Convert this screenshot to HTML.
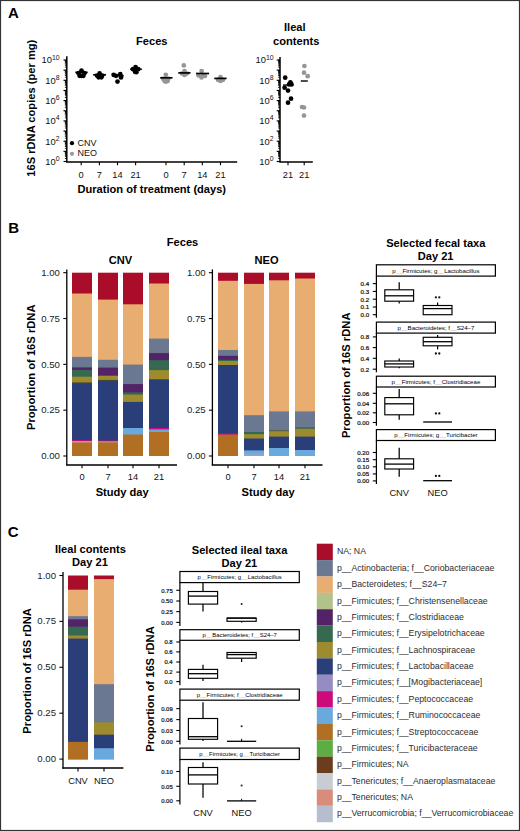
<!DOCTYPE html>
<html><head><meta charset="utf-8"><style>
html,body{margin:0;padding:0;background:#fff;}
svg{display:block;font-family:"Liberation Sans", sans-serif;}
</style></head><body>
<svg width="520" height="831" viewBox="0 0 520 831" font-family='"Liberation Sans", sans-serif'>
<rect x="0.5" y="0.5" width="519" height="830" fill="#fff" stroke="#333" stroke-width="1.2"/>
<text x="8.1" y="18.3" font-size="15" font-weight="bold" text-anchor="start" fill="#000">A</text>
<text x="8.3" y="233.0" font-size="15" font-weight="bold" text-anchor="start" fill="#000">B</text>
<text x="7.8" y="537.0" font-size="15" font-weight="bold" text-anchor="start" fill="#000">C</text>
<text x="151.8" y="45.4" font-size="11.1" font-weight="bold" text-anchor="middle" fill="#000">Feces</text>
<text x="294.8" y="31.2" font-size="11.1" font-weight="bold" text-anchor="middle" fill="#000">Ileal</text>
<text x="296.2" y="45.2" font-size="11.1" font-weight="bold" text-anchor="middle" fill="#000">contents</text>
<line x1="66.8" y1="56.2" x2="66.8" y2="161.9" stroke="#000" stroke-width="1.5"/>
<line x1="63.5" y1="161.5" x2="66.8" y2="161.5" stroke="#000" stroke-width="1.15"/>
<line x1="64.89999999999999" y1="158.4445455440106" x2="66.8" y2="158.4445455440106" stroke="#000" stroke-width="0.85"/>
<line x1="64.89999999999999" y1="156.65721926459543" x2="66.8" y2="156.65721926459543" stroke="#000" stroke-width="0.85"/>
<line x1="64.89999999999999" y1="155.3890910880212" x2="66.8" y2="155.3890910880212" stroke="#000" stroke-width="0.85"/>
<line x1="64.89999999999999" y1="154.4054544559894" x2="66.8" y2="154.4054544559894" stroke="#000" stroke-width="0.85"/>
<line x1="64.89999999999999" y1="153.60176480860602" x2="66.8" y2="153.60176480860602" stroke="#000" stroke-width="0.85"/>
<line x1="64.89999999999999" y1="152.9222548938553" x2="66.8" y2="152.9222548938553" stroke="#000" stroke-width="0.85"/>
<line x1="64.89999999999999" y1="152.33363663203178" x2="66.8" y2="152.33363663203178" stroke="#000" stroke-width="0.85"/>
<line x1="64.89999999999999" y1="151.81443852919085" x2="66.8" y2="151.81443852919085" stroke="#000" stroke-width="0.85"/>
<line x1="63.5" y1="151.35" x2="66.8" y2="151.35" stroke="#000" stroke-width="1.15"/>
<line x1="64.89999999999999" y1="148.2945455440106" x2="66.8" y2="148.2945455440106" stroke="#000" stroke-width="0.85"/>
<line x1="64.89999999999999" y1="146.50721926459542" x2="66.8" y2="146.50721926459542" stroke="#000" stroke-width="0.85"/>
<line x1="64.89999999999999" y1="145.23909108802118" x2="66.8" y2="145.23909108802118" stroke="#000" stroke-width="0.85"/>
<line x1="64.89999999999999" y1="144.25545445598942" x2="66.8" y2="144.25545445598942" stroke="#000" stroke-width="0.85"/>
<line x1="64.89999999999999" y1="143.45176480860601" x2="66.8" y2="143.45176480860601" stroke="#000" stroke-width="0.85"/>
<line x1="64.89999999999999" y1="142.7722548938553" x2="66.8" y2="142.7722548938553" stroke="#000" stroke-width="0.85"/>
<line x1="64.89999999999999" y1="142.18363663203178" x2="66.8" y2="142.18363663203178" stroke="#000" stroke-width="0.85"/>
<line x1="64.89999999999999" y1="141.66443852919085" x2="66.8" y2="141.66443852919085" stroke="#000" stroke-width="0.85"/>
<line x1="63.5" y1="141.2" x2="66.8" y2="141.2" stroke="#000" stroke-width="1.15"/>
<line x1="64.89999999999999" y1="138.14454554401058" x2="66.8" y2="138.14454554401058" stroke="#000" stroke-width="0.85"/>
<line x1="64.89999999999999" y1="136.35721926459541" x2="66.8" y2="136.35721926459541" stroke="#000" stroke-width="0.85"/>
<line x1="64.89999999999999" y1="135.08909108802118" x2="66.8" y2="135.08909108802118" stroke="#000" stroke-width="0.85"/>
<line x1="64.89999999999999" y1="134.10545445598942" x2="66.8" y2="134.10545445598942" stroke="#000" stroke-width="0.85"/>
<line x1="64.89999999999999" y1="133.301764808606" x2="66.8" y2="133.301764808606" stroke="#000" stroke-width="0.85"/>
<line x1="64.89999999999999" y1="132.62225489385528" x2="66.8" y2="132.62225489385528" stroke="#000" stroke-width="0.85"/>
<line x1="64.89999999999999" y1="132.03363663203177" x2="66.8" y2="132.03363663203177" stroke="#000" stroke-width="0.85"/>
<line x1="64.89999999999999" y1="131.51443852919084" x2="66.8" y2="131.51443852919084" stroke="#000" stroke-width="0.85"/>
<line x1="63.5" y1="131.05" x2="66.8" y2="131.05" stroke="#000" stroke-width="1.15"/>
<line x1="64.89999999999999" y1="127.99454554401059" x2="66.8" y2="127.99454554401059" stroke="#000" stroke-width="0.85"/>
<line x1="64.89999999999999" y1="126.20721926459542" x2="66.8" y2="126.20721926459542" stroke="#000" stroke-width="0.85"/>
<line x1="64.89999999999999" y1="124.93909108802117" x2="66.8" y2="124.93909108802117" stroke="#000" stroke-width="0.85"/>
<line x1="64.89999999999999" y1="123.95545445598941" x2="66.8" y2="123.95545445598941" stroke="#000" stroke-width="0.85"/>
<line x1="64.89999999999999" y1="123.151764808606" x2="66.8" y2="123.151764808606" stroke="#000" stroke-width="0.85"/>
<line x1="64.89999999999999" y1="122.4722548938553" x2="66.8" y2="122.4722548938553" stroke="#000" stroke-width="0.85"/>
<line x1="64.89999999999999" y1="121.88363663203177" x2="66.8" y2="121.88363663203177" stroke="#000" stroke-width="0.85"/>
<line x1="64.89999999999999" y1="121.36443852919085" x2="66.8" y2="121.36443852919085" stroke="#000" stroke-width="0.85"/>
<line x1="63.5" y1="120.9" x2="66.8" y2="120.9" stroke="#000" stroke-width="1.15"/>
<line x1="64.89999999999999" y1="117.84454554401059" x2="66.8" y2="117.84454554401059" stroke="#000" stroke-width="0.85"/>
<line x1="64.89999999999999" y1="116.05721926459543" x2="66.8" y2="116.05721926459543" stroke="#000" stroke-width="0.85"/>
<line x1="64.89999999999999" y1="114.78909108802118" x2="66.8" y2="114.78909108802118" stroke="#000" stroke-width="0.85"/>
<line x1="64.89999999999999" y1="113.8054544559894" x2="66.8" y2="113.8054544559894" stroke="#000" stroke-width="0.85"/>
<line x1="64.89999999999999" y1="113.00176480860601" x2="66.8" y2="113.00176480860601" stroke="#000" stroke-width="0.85"/>
<line x1="64.89999999999999" y1="112.32225489385529" x2="66.8" y2="112.32225489385529" stroke="#000" stroke-width="0.85"/>
<line x1="64.89999999999999" y1="111.73363663203176" x2="66.8" y2="111.73363663203176" stroke="#000" stroke-width="0.85"/>
<line x1="64.89999999999999" y1="111.21443852919086" x2="66.8" y2="111.21443852919086" stroke="#000" stroke-width="0.85"/>
<line x1="63.5" y1="110.75" x2="66.8" y2="110.75" stroke="#000" stroke-width="1.15"/>
<line x1="64.89999999999999" y1="107.6945455440106" x2="66.8" y2="107.6945455440106" stroke="#000" stroke-width="0.85"/>
<line x1="64.89999999999999" y1="105.90721926459543" x2="66.8" y2="105.90721926459543" stroke="#000" stroke-width="0.85"/>
<line x1="64.89999999999999" y1="104.63909108802119" x2="66.8" y2="104.63909108802119" stroke="#000" stroke-width="0.85"/>
<line x1="64.89999999999999" y1="103.6554544559894" x2="66.8" y2="103.6554544559894" stroke="#000" stroke-width="0.85"/>
<line x1="64.89999999999999" y1="102.85176480860602" x2="66.8" y2="102.85176480860602" stroke="#000" stroke-width="0.85"/>
<line x1="64.89999999999999" y1="102.1722548938553" x2="66.8" y2="102.1722548938553" stroke="#000" stroke-width="0.85"/>
<line x1="64.89999999999999" y1="101.58363663203177" x2="66.8" y2="101.58363663203177" stroke="#000" stroke-width="0.85"/>
<line x1="64.89999999999999" y1="101.06443852919085" x2="66.8" y2="101.06443852919085" stroke="#000" stroke-width="0.85"/>
<line x1="63.5" y1="100.6" x2="66.8" y2="100.6" stroke="#000" stroke-width="1.15"/>
<line x1="64.89999999999999" y1="97.54454554401059" x2="66.8" y2="97.54454554401059" stroke="#000" stroke-width="0.85"/>
<line x1="64.89999999999999" y1="95.75721926459542" x2="66.8" y2="95.75721926459542" stroke="#000" stroke-width="0.85"/>
<line x1="64.89999999999999" y1="94.48909108802118" x2="66.8" y2="94.48909108802118" stroke="#000" stroke-width="0.85"/>
<line x1="64.89999999999999" y1="93.50545445598941" x2="66.8" y2="93.50545445598941" stroke="#000" stroke-width="0.85"/>
<line x1="64.89999999999999" y1="92.70176480860601" x2="66.8" y2="92.70176480860601" stroke="#000" stroke-width="0.85"/>
<line x1="64.89999999999999" y1="92.02225489385529" x2="66.8" y2="92.02225489385529" stroke="#000" stroke-width="0.85"/>
<line x1="64.89999999999999" y1="91.43363663203176" x2="66.8" y2="91.43363663203176" stroke="#000" stroke-width="0.85"/>
<line x1="64.89999999999999" y1="90.91443852919085" x2="66.8" y2="90.91443852919085" stroke="#000" stroke-width="0.85"/>
<line x1="63.5" y1="90.45" x2="66.8" y2="90.45" stroke="#000" stroke-width="1.15"/>
<line x1="64.89999999999999" y1="87.39454554401058" x2="66.8" y2="87.39454554401058" stroke="#000" stroke-width="0.85"/>
<line x1="64.89999999999999" y1="85.60721926459543" x2="66.8" y2="85.60721926459543" stroke="#000" stroke-width="0.85"/>
<line x1="64.89999999999999" y1="84.33909108802118" x2="66.8" y2="84.33909108802118" stroke="#000" stroke-width="0.85"/>
<line x1="64.89999999999999" y1="83.3554544559894" x2="66.8" y2="83.3554544559894" stroke="#000" stroke-width="0.85"/>
<line x1="64.89999999999999" y1="82.55176480860601" x2="66.8" y2="82.55176480860601" stroke="#000" stroke-width="0.85"/>
<line x1="64.89999999999999" y1="81.87225489385528" x2="66.8" y2="81.87225489385528" stroke="#000" stroke-width="0.85"/>
<line x1="64.89999999999999" y1="81.28363663203177" x2="66.8" y2="81.28363663203177" stroke="#000" stroke-width="0.85"/>
<line x1="64.89999999999999" y1="80.76443852919084" x2="66.8" y2="80.76443852919084" stroke="#000" stroke-width="0.85"/>
<line x1="63.5" y1="80.3" x2="66.8" y2="80.3" stroke="#000" stroke-width="1.15"/>
<line x1="64.89999999999999" y1="77.24454554401059" x2="66.8" y2="77.24454554401059" stroke="#000" stroke-width="0.85"/>
<line x1="64.89999999999999" y1="75.45721926459542" x2="66.8" y2="75.45721926459542" stroke="#000" stroke-width="0.85"/>
<line x1="64.89999999999999" y1="74.18909108802117" x2="66.8" y2="74.18909108802117" stroke="#000" stroke-width="0.85"/>
<line x1="64.89999999999999" y1="73.20545445598941" x2="66.8" y2="73.20545445598941" stroke="#000" stroke-width="0.85"/>
<line x1="64.89999999999999" y1="72.40176480860602" x2="66.8" y2="72.40176480860602" stroke="#000" stroke-width="0.85"/>
<line x1="64.89999999999999" y1="71.7222548938553" x2="66.8" y2="71.7222548938553" stroke="#000" stroke-width="0.85"/>
<line x1="64.89999999999999" y1="71.13363663203177" x2="66.8" y2="71.13363663203177" stroke="#000" stroke-width="0.85"/>
<line x1="64.89999999999999" y1="70.61443852919085" x2="66.8" y2="70.61443852919085" stroke="#000" stroke-width="0.85"/>
<line x1="63.5" y1="70.14999999999999" x2="66.8" y2="70.14999999999999" stroke="#000" stroke-width="1.15"/>
<line x1="64.89999999999999" y1="67.09454554401059" x2="66.8" y2="67.09454554401059" stroke="#000" stroke-width="0.85"/>
<line x1="64.89999999999999" y1="65.30721926459542" x2="66.8" y2="65.30721926459542" stroke="#000" stroke-width="0.85"/>
<line x1="64.89999999999999" y1="64.03909108802118" x2="66.8" y2="64.03909108802118" stroke="#000" stroke-width="0.85"/>
<line x1="64.89999999999999" y1="63.055454455989405" x2="66.8" y2="63.055454455989405" stroke="#000" stroke-width="0.85"/>
<line x1="64.89999999999999" y1="62.25176480860601" x2="66.8" y2="62.25176480860601" stroke="#000" stroke-width="0.85"/>
<line x1="64.89999999999999" y1="61.57225489385529" x2="66.8" y2="61.57225489385529" stroke="#000" stroke-width="0.85"/>
<line x1="64.89999999999999" y1="60.98363663203176" x2="66.8" y2="60.98363663203176" stroke="#000" stroke-width="0.85"/>
<line x1="64.89999999999999" y1="60.46443852919084" x2="66.8" y2="60.46443852919084" stroke="#000" stroke-width="0.85"/>
<line x1="63.5" y1="60.0" x2="66.8" y2="60.0" stroke="#000" stroke-width="1.15"/>
<text x="59.6" y="164.9" font-size="9.4" text-anchor="end" fill="#111">10<tspan font-size="6.9" dy="-3.9">0</tspan></text>
<text x="59.6" y="144.6" font-size="9.4" text-anchor="end" fill="#111">10<tspan font-size="6.9" dy="-3.9">2</tspan></text>
<text x="59.6" y="124.30000000000001" font-size="9.4" text-anchor="end" fill="#111">10<tspan font-size="6.9" dy="-3.9">4</tspan></text>
<text x="59.6" y="104.0" font-size="9.4" text-anchor="end" fill="#111">10<tspan font-size="6.9" dy="-3.9">6</tspan></text>
<text x="59.6" y="83.7" font-size="9.4" text-anchor="end" fill="#111">10<tspan font-size="6.9" dy="-3.9">8</tspan></text>
<text x="59.6" y="63.4" font-size="9.4" text-anchor="end" fill="#111">10<tspan font-size="6.9" dy="-3.9">10</tspan></text>
<line x1="66.0" y1="161.9" x2="237.2" y2="161.9" stroke="#000" stroke-width="1.5"/>
<line x1="81.2" y1="161.9" x2="81.2" y2="165.2" stroke="#000" stroke-width="1.1"/>
<line x1="99.4" y1="161.9" x2="99.4" y2="165.2" stroke="#000" stroke-width="1.1"/>
<line x1="117.5" y1="161.9" x2="117.5" y2="165.2" stroke="#000" stroke-width="1.1"/>
<line x1="135.6" y1="161.9" x2="135.6" y2="165.2" stroke="#000" stroke-width="1.1"/>
<line x1="166.0" y1="161.9" x2="166.0" y2="165.2" stroke="#000" stroke-width="1.1"/>
<line x1="184.2" y1="161.9" x2="184.2" y2="165.2" stroke="#000" stroke-width="1.1"/>
<line x1="202.3" y1="161.9" x2="202.3" y2="165.2" stroke="#000" stroke-width="1.1"/>
<line x1="220.5" y1="161.9" x2="220.5" y2="165.2" stroke="#000" stroke-width="1.1"/>
<text x="81.2" y="177.6" font-size="9.3" text-anchor="middle" fill="#111">0</text>
<text x="99.4" y="177.6" font-size="9.3" text-anchor="middle" fill="#111">7</text>
<text x="117.5" y="177.6" font-size="9.3" text-anchor="middle" fill="#111">14</text>
<text x="135.6" y="177.6" font-size="9.3" text-anchor="middle" fill="#111">21</text>
<text x="166.0" y="177.6" font-size="9.3" text-anchor="middle" fill="#111">0</text>
<text x="184.2" y="177.6" font-size="9.3" text-anchor="middle" fill="#111">7</text>
<text x="202.3" y="177.6" font-size="9.3" text-anchor="middle" fill="#111">14</text>
<text x="220.5" y="177.6" font-size="9.3" text-anchor="middle" fill="#111">21</text>
<text x="151.8" y="193.0" font-size="11.1" font-weight="bold" text-anchor="middle" fill="#000">Duration of treatment (days)</text>
<text x="35.0" y="108.2" font-size="11.15" font-weight="bold" text-anchor="middle" fill="#000" transform="rotate(-90 35.0 108.2)">16S rDNA copies (per mg)</text>
<circle cx="72.0" cy="143.2" r="2.1" fill="#000"/>
<text x="77.6" y="145.8" font-size="9.0" text-anchor="start" fill="#111">CNV</text>
<circle cx="72.0" cy="153.8" r="2.1" fill="#999"/>
<text x="77.6" y="156.4" font-size="9.0" text-anchor="start" fill="#111">NEO</text>
<circle cx="81.5" cy="70.6" r="2.35" fill="#000"/>
<circle cx="78.6" cy="73.2" r="2.35" fill="#000"/>
<circle cx="84.4" cy="73.2" r="2.35" fill="#000"/>
<circle cx="79.6" cy="75.8" r="2.35" fill="#000"/>
<circle cx="83.4" cy="75.8" r="2.35" fill="#000"/>
<circle cx="81.5" cy="75.9" r="2.35" fill="#000"/>
<circle cx="99.6" cy="73.4" r="2.35" fill="#000"/>
<circle cx="97.0" cy="75.5" r="2.35" fill="#000"/>
<circle cx="102.2" cy="75.5" r="2.35" fill="#000"/>
<circle cx="98.6" cy="77.3" r="2.35" fill="#000"/>
<circle cx="101.4" cy="77.3" r="2.35" fill="#000"/>
<circle cx="113.6" cy="74.8" r="2.35" fill="#000"/>
<circle cx="116.0" cy="75.8" r="2.35" fill="#000"/>
<circle cx="120.3" cy="74.2" r="2.35" fill="#000"/>
<circle cx="121.0" cy="77.4" r="2.35" fill="#000"/>
<circle cx="117.5" cy="81.6" r="2.35" fill="#000"/>
<circle cx="135.6" cy="67.2" r="2.35" fill="#000"/>
<circle cx="133.0" cy="69.2" r="2.35" fill="#000"/>
<circle cx="138.2" cy="69.2" r="2.35" fill="#000"/>
<circle cx="135.0" cy="71.8" r="2.35" fill="#000"/>
<circle cx="136.4" cy="72.2" r="2.35" fill="#000"/>
<line x1="75.3" y1="72.4" x2="87.7" y2="72.4" stroke="#000" stroke-width="1.7"/>
<line x1="93.2" y1="74.8" x2="106.0" y2="74.8" stroke="#000" stroke-width="1.7"/>
<line x1="112.2" y1="75.8" x2="123.7" y2="75.8" stroke="#000" stroke-width="1.7"/>
<line x1="130.2" y1="69.2" x2="141.8" y2="69.2" stroke="#000" stroke-width="1.7"/>
<circle cx="165.8" cy="74.8" r="2.35" fill="#959595"/>
<circle cx="163.2" cy="78.8" r="2.35" fill="#959595"/>
<circle cx="168.4" cy="78.8" r="2.35" fill="#959595"/>
<circle cx="164.8" cy="81.2" r="2.35" fill="#959595"/>
<circle cx="167.6" cy="81.0" r="2.35" fill="#959595"/>
<circle cx="166" cy="81.6" r="2.35" fill="#959595"/>
<circle cx="183.8" cy="65.4" r="2.35" fill="#959595"/>
<circle cx="184.5" cy="71" r="2.35" fill="#959595"/>
<circle cx="182" cy="73.5" r="2.35" fill="#959595"/>
<circle cx="187" cy="73.5" r="2.35" fill="#959595"/>
<circle cx="184.5" cy="75" r="2.35" fill="#959595"/>
<circle cx="201.6" cy="71.1" r="2.35" fill="#959595"/>
<circle cx="198.5" cy="75.5" r="2.35" fill="#959595"/>
<circle cx="203" cy="75.5" r="2.35" fill="#959595"/>
<circle cx="201.5" cy="77.5" r="2.35" fill="#959595"/>
<circle cx="205" cy="76" r="2.35" fill="#959595"/>
<circle cx="220.5" cy="77.2" r="2.35" fill="#959595"/>
<circle cx="218" cy="79.8" r="2.35" fill="#959595"/>
<circle cx="223" cy="79.8" r="2.35" fill="#959595"/>
<circle cx="220.5" cy="80.9" r="2.35" fill="#959595"/>
<line x1="160.2" y1="77.8" x2="172.5" y2="77.8" stroke="#000" stroke-width="1.7"/>
<line x1="178.3" y1="72.9" x2="190.5" y2="72.9" stroke="#000" stroke-width="1.7"/>
<line x1="196.0" y1="73.5" x2="209.1" y2="73.5" stroke="#000" stroke-width="1.7"/>
<line x1="214.3" y1="78.4" x2="226.6" y2="78.4" stroke="#000" stroke-width="1.7"/>
<line x1="280.0" y1="57.0" x2="280.0" y2="161.9" stroke="#000" stroke-width="1.5"/>
<line x1="276.7" y1="161.5" x2="280.0" y2="161.5" stroke="#000" stroke-width="1.15"/>
<line x1="278.1" y1="158.4445455440106" x2="280.0" y2="158.4445455440106" stroke="#000" stroke-width="0.85"/>
<line x1="278.1" y1="156.65721926459543" x2="280.0" y2="156.65721926459543" stroke="#000" stroke-width="0.85"/>
<line x1="278.1" y1="155.3890910880212" x2="280.0" y2="155.3890910880212" stroke="#000" stroke-width="0.85"/>
<line x1="278.1" y1="154.4054544559894" x2="280.0" y2="154.4054544559894" stroke="#000" stroke-width="0.85"/>
<line x1="278.1" y1="153.60176480860602" x2="280.0" y2="153.60176480860602" stroke="#000" stroke-width="0.85"/>
<line x1="278.1" y1="152.9222548938553" x2="280.0" y2="152.9222548938553" stroke="#000" stroke-width="0.85"/>
<line x1="278.1" y1="152.33363663203178" x2="280.0" y2="152.33363663203178" stroke="#000" stroke-width="0.85"/>
<line x1="278.1" y1="151.81443852919085" x2="280.0" y2="151.81443852919085" stroke="#000" stroke-width="0.85"/>
<line x1="276.7" y1="151.35" x2="280.0" y2="151.35" stroke="#000" stroke-width="1.15"/>
<line x1="278.1" y1="148.2945455440106" x2="280.0" y2="148.2945455440106" stroke="#000" stroke-width="0.85"/>
<line x1="278.1" y1="146.50721926459542" x2="280.0" y2="146.50721926459542" stroke="#000" stroke-width="0.85"/>
<line x1="278.1" y1="145.23909108802118" x2="280.0" y2="145.23909108802118" stroke="#000" stroke-width="0.85"/>
<line x1="278.1" y1="144.25545445598942" x2="280.0" y2="144.25545445598942" stroke="#000" stroke-width="0.85"/>
<line x1="278.1" y1="143.45176480860601" x2="280.0" y2="143.45176480860601" stroke="#000" stroke-width="0.85"/>
<line x1="278.1" y1="142.7722548938553" x2="280.0" y2="142.7722548938553" stroke="#000" stroke-width="0.85"/>
<line x1="278.1" y1="142.18363663203178" x2="280.0" y2="142.18363663203178" stroke="#000" stroke-width="0.85"/>
<line x1="278.1" y1="141.66443852919085" x2="280.0" y2="141.66443852919085" stroke="#000" stroke-width="0.85"/>
<line x1="276.7" y1="141.2" x2="280.0" y2="141.2" stroke="#000" stroke-width="1.15"/>
<line x1="278.1" y1="138.14454554401058" x2="280.0" y2="138.14454554401058" stroke="#000" stroke-width="0.85"/>
<line x1="278.1" y1="136.35721926459541" x2="280.0" y2="136.35721926459541" stroke="#000" stroke-width="0.85"/>
<line x1="278.1" y1="135.08909108802118" x2="280.0" y2="135.08909108802118" stroke="#000" stroke-width="0.85"/>
<line x1="278.1" y1="134.10545445598942" x2="280.0" y2="134.10545445598942" stroke="#000" stroke-width="0.85"/>
<line x1="278.1" y1="133.301764808606" x2="280.0" y2="133.301764808606" stroke="#000" stroke-width="0.85"/>
<line x1="278.1" y1="132.62225489385528" x2="280.0" y2="132.62225489385528" stroke="#000" stroke-width="0.85"/>
<line x1="278.1" y1="132.03363663203177" x2="280.0" y2="132.03363663203177" stroke="#000" stroke-width="0.85"/>
<line x1="278.1" y1="131.51443852919084" x2="280.0" y2="131.51443852919084" stroke="#000" stroke-width="0.85"/>
<line x1="276.7" y1="131.05" x2="280.0" y2="131.05" stroke="#000" stroke-width="1.15"/>
<line x1="278.1" y1="127.99454554401059" x2="280.0" y2="127.99454554401059" stroke="#000" stroke-width="0.85"/>
<line x1="278.1" y1="126.20721926459542" x2="280.0" y2="126.20721926459542" stroke="#000" stroke-width="0.85"/>
<line x1="278.1" y1="124.93909108802117" x2="280.0" y2="124.93909108802117" stroke="#000" stroke-width="0.85"/>
<line x1="278.1" y1="123.95545445598941" x2="280.0" y2="123.95545445598941" stroke="#000" stroke-width="0.85"/>
<line x1="278.1" y1="123.151764808606" x2="280.0" y2="123.151764808606" stroke="#000" stroke-width="0.85"/>
<line x1="278.1" y1="122.4722548938553" x2="280.0" y2="122.4722548938553" stroke="#000" stroke-width="0.85"/>
<line x1="278.1" y1="121.88363663203177" x2="280.0" y2="121.88363663203177" stroke="#000" stroke-width="0.85"/>
<line x1="278.1" y1="121.36443852919085" x2="280.0" y2="121.36443852919085" stroke="#000" stroke-width="0.85"/>
<line x1="276.7" y1="120.9" x2="280.0" y2="120.9" stroke="#000" stroke-width="1.15"/>
<line x1="278.1" y1="117.84454554401059" x2="280.0" y2="117.84454554401059" stroke="#000" stroke-width="0.85"/>
<line x1="278.1" y1="116.05721926459543" x2="280.0" y2="116.05721926459543" stroke="#000" stroke-width="0.85"/>
<line x1="278.1" y1="114.78909108802118" x2="280.0" y2="114.78909108802118" stroke="#000" stroke-width="0.85"/>
<line x1="278.1" y1="113.8054544559894" x2="280.0" y2="113.8054544559894" stroke="#000" stroke-width="0.85"/>
<line x1="278.1" y1="113.00176480860601" x2="280.0" y2="113.00176480860601" stroke="#000" stroke-width="0.85"/>
<line x1="278.1" y1="112.32225489385529" x2="280.0" y2="112.32225489385529" stroke="#000" stroke-width="0.85"/>
<line x1="278.1" y1="111.73363663203176" x2="280.0" y2="111.73363663203176" stroke="#000" stroke-width="0.85"/>
<line x1="278.1" y1="111.21443852919086" x2="280.0" y2="111.21443852919086" stroke="#000" stroke-width="0.85"/>
<line x1="276.7" y1="110.75" x2="280.0" y2="110.75" stroke="#000" stroke-width="1.15"/>
<line x1="278.1" y1="107.6945455440106" x2="280.0" y2="107.6945455440106" stroke="#000" stroke-width="0.85"/>
<line x1="278.1" y1="105.90721926459543" x2="280.0" y2="105.90721926459543" stroke="#000" stroke-width="0.85"/>
<line x1="278.1" y1="104.63909108802119" x2="280.0" y2="104.63909108802119" stroke="#000" stroke-width="0.85"/>
<line x1="278.1" y1="103.6554544559894" x2="280.0" y2="103.6554544559894" stroke="#000" stroke-width="0.85"/>
<line x1="278.1" y1="102.85176480860602" x2="280.0" y2="102.85176480860602" stroke="#000" stroke-width="0.85"/>
<line x1="278.1" y1="102.1722548938553" x2="280.0" y2="102.1722548938553" stroke="#000" stroke-width="0.85"/>
<line x1="278.1" y1="101.58363663203177" x2="280.0" y2="101.58363663203177" stroke="#000" stroke-width="0.85"/>
<line x1="278.1" y1="101.06443852919085" x2="280.0" y2="101.06443852919085" stroke="#000" stroke-width="0.85"/>
<line x1="276.7" y1="100.6" x2="280.0" y2="100.6" stroke="#000" stroke-width="1.15"/>
<line x1="278.1" y1="97.54454554401059" x2="280.0" y2="97.54454554401059" stroke="#000" stroke-width="0.85"/>
<line x1="278.1" y1="95.75721926459542" x2="280.0" y2="95.75721926459542" stroke="#000" stroke-width="0.85"/>
<line x1="278.1" y1="94.48909108802118" x2="280.0" y2="94.48909108802118" stroke="#000" stroke-width="0.85"/>
<line x1="278.1" y1="93.50545445598941" x2="280.0" y2="93.50545445598941" stroke="#000" stroke-width="0.85"/>
<line x1="278.1" y1="92.70176480860601" x2="280.0" y2="92.70176480860601" stroke="#000" stroke-width="0.85"/>
<line x1="278.1" y1="92.02225489385529" x2="280.0" y2="92.02225489385529" stroke="#000" stroke-width="0.85"/>
<line x1="278.1" y1="91.43363663203176" x2="280.0" y2="91.43363663203176" stroke="#000" stroke-width="0.85"/>
<line x1="278.1" y1="90.91443852919085" x2="280.0" y2="90.91443852919085" stroke="#000" stroke-width="0.85"/>
<line x1="276.7" y1="90.45" x2="280.0" y2="90.45" stroke="#000" stroke-width="1.15"/>
<line x1="278.1" y1="87.39454554401058" x2="280.0" y2="87.39454554401058" stroke="#000" stroke-width="0.85"/>
<line x1="278.1" y1="85.60721926459543" x2="280.0" y2="85.60721926459543" stroke="#000" stroke-width="0.85"/>
<line x1="278.1" y1="84.33909108802118" x2="280.0" y2="84.33909108802118" stroke="#000" stroke-width="0.85"/>
<line x1="278.1" y1="83.3554544559894" x2="280.0" y2="83.3554544559894" stroke="#000" stroke-width="0.85"/>
<line x1="278.1" y1="82.55176480860601" x2="280.0" y2="82.55176480860601" stroke="#000" stroke-width="0.85"/>
<line x1="278.1" y1="81.87225489385528" x2="280.0" y2="81.87225489385528" stroke="#000" stroke-width="0.85"/>
<line x1="278.1" y1="81.28363663203177" x2="280.0" y2="81.28363663203177" stroke="#000" stroke-width="0.85"/>
<line x1="278.1" y1="80.76443852919084" x2="280.0" y2="80.76443852919084" stroke="#000" stroke-width="0.85"/>
<line x1="276.7" y1="80.3" x2="280.0" y2="80.3" stroke="#000" stroke-width="1.15"/>
<line x1="278.1" y1="77.24454554401059" x2="280.0" y2="77.24454554401059" stroke="#000" stroke-width="0.85"/>
<line x1="278.1" y1="75.45721926459542" x2="280.0" y2="75.45721926459542" stroke="#000" stroke-width="0.85"/>
<line x1="278.1" y1="74.18909108802117" x2="280.0" y2="74.18909108802117" stroke="#000" stroke-width="0.85"/>
<line x1="278.1" y1="73.20545445598941" x2="280.0" y2="73.20545445598941" stroke="#000" stroke-width="0.85"/>
<line x1="278.1" y1="72.40176480860602" x2="280.0" y2="72.40176480860602" stroke="#000" stroke-width="0.85"/>
<line x1="278.1" y1="71.7222548938553" x2="280.0" y2="71.7222548938553" stroke="#000" stroke-width="0.85"/>
<line x1="278.1" y1="71.13363663203177" x2="280.0" y2="71.13363663203177" stroke="#000" stroke-width="0.85"/>
<line x1="278.1" y1="70.61443852919085" x2="280.0" y2="70.61443852919085" stroke="#000" stroke-width="0.85"/>
<line x1="276.7" y1="70.14999999999999" x2="280.0" y2="70.14999999999999" stroke="#000" stroke-width="1.15"/>
<line x1="278.1" y1="67.09454554401059" x2="280.0" y2="67.09454554401059" stroke="#000" stroke-width="0.85"/>
<line x1="278.1" y1="65.30721926459542" x2="280.0" y2="65.30721926459542" stroke="#000" stroke-width="0.85"/>
<line x1="278.1" y1="64.03909108802118" x2="280.0" y2="64.03909108802118" stroke="#000" stroke-width="0.85"/>
<line x1="278.1" y1="63.055454455989405" x2="280.0" y2="63.055454455989405" stroke="#000" stroke-width="0.85"/>
<line x1="278.1" y1="62.25176480860601" x2="280.0" y2="62.25176480860601" stroke="#000" stroke-width="0.85"/>
<line x1="278.1" y1="61.57225489385529" x2="280.0" y2="61.57225489385529" stroke="#000" stroke-width="0.85"/>
<line x1="278.1" y1="60.98363663203176" x2="280.0" y2="60.98363663203176" stroke="#000" stroke-width="0.85"/>
<line x1="278.1" y1="60.46443852919084" x2="280.0" y2="60.46443852919084" stroke="#000" stroke-width="0.85"/>
<line x1="276.7" y1="60.0" x2="280.0" y2="60.0" stroke="#000" stroke-width="1.15"/>
<text x="273.6" y="164.9" font-size="9.4" text-anchor="end" fill="#111">10<tspan font-size="6.9" dy="-3.9">0</tspan></text>
<text x="273.6" y="144.6" font-size="9.4" text-anchor="end" fill="#111">10<tspan font-size="6.9" dy="-3.9">2</tspan></text>
<text x="273.6" y="124.30000000000001" font-size="9.4" text-anchor="end" fill="#111">10<tspan font-size="6.9" dy="-3.9">4</tspan></text>
<text x="273.6" y="104.0" font-size="9.4" text-anchor="end" fill="#111">10<tspan font-size="6.9" dy="-3.9">6</tspan></text>
<text x="273.6" y="83.7" font-size="9.4" text-anchor="end" fill="#111">10<tspan font-size="6.9" dy="-3.9">8</tspan></text>
<text x="273.6" y="63.4" font-size="9.4" text-anchor="end" fill="#111">10<tspan font-size="6.9" dy="-3.9">10</tspan></text>
<line x1="279.3" y1="161.9" x2="312.8" y2="161.9" stroke="#000" stroke-width="1.5"/>
<line x1="288.0" y1="161.9" x2="288.0" y2="165.2" stroke="#000" stroke-width="1.1"/>
<text x="288.0" y="177.6" font-size="9.3" text-anchor="middle" fill="#111">21</text>
<line x1="304.2" y1="161.9" x2="304.2" y2="165.2" stroke="#000" stroke-width="1.1"/>
<text x="304.2" y="177.6" font-size="9.3" text-anchor="middle" fill="#111">21</text>
<circle cx="285.2" cy="77.7" r="2.35" fill="#000"/>
<circle cx="290.4" cy="82.3" r="2.35" fill="#000"/>
<circle cx="289" cy="84.4" r="2.35" fill="#000"/>
<circle cx="291.5" cy="84.4" r="2.35" fill="#000"/>
<circle cx="284.6" cy="87.7" r="2.35" fill="#000"/>
<circle cx="288" cy="90.6" r="2.35" fill="#000"/>
<circle cx="291" cy="98.7" r="2.35" fill="#000"/>
<circle cx="288" cy="102.7" r="2.35" fill="#000"/>
<line x1="283.0" y1="85.0" x2="293.5" y2="85.0" stroke="#000" stroke-width="1.3"/>
<circle cx="304.4" cy="66" r="2.35" fill="#959595"/>
<circle cx="304" cy="72.7" r="2.35" fill="#959595"/>
<circle cx="307.7" cy="76.2" r="2.35" fill="#959595"/>
<circle cx="302" cy="107" r="2.35" fill="#959595"/>
<circle cx="304" cy="107.5" r="2.35" fill="#959595"/>
<circle cx="304" cy="115.6" r="2.35" fill="#959595"/>
<line x1="300.8" y1="81.0" x2="307.8" y2="81.0" stroke="#000" stroke-width="1.4"/>
<text x="182.5" y="246.3" font-size="11.1" font-weight="bold" text-anchor="middle" fill="#000">Feces</text>
<text x="120.5" y="263.6" font-size="11.1" font-weight="bold" text-anchor="middle" fill="#000">CNV</text>
<text x="266.5" y="263.8" font-size="11.1" font-weight="bold" text-anchor="middle" fill="#000">NEO</text>
<rect x="72.00" y="272.70" width="20.00" height="183.30" fill="#a90d29"/>
<rect x="72.00" y="293.50" width="20.00" height="162.50" fill="#e7ad71"/>
<rect x="72.00" y="356.90" width="20.00" height="99.10" fill="#6a7891"/>
<rect x="72.00" y="367.40" width="20.00" height="88.60" fill="#522366"/>
<rect x="72.00" y="369.90" width="20.00" height="86.10" fill="#356a51"/>
<rect x="72.00" y="376.70" width="20.00" height="79.30" fill="#9d8b2d"/>
<rect x="72.00" y="382.40" width="20.00" height="73.60" fill="#4a4a3a"/>
<rect x="72.00" y="383.30" width="20.00" height="72.70" fill="#2a3f7a"/>
<rect x="72.00" y="440.20" width="20.00" height="15.80" fill="#cc0a7a"/>
<rect x="72.00" y="441.20" width="20.00" height="14.80" fill="#d9a3bd"/>
<rect x="72.00" y="442.40" width="20.00" height="13.60" fill="#b16f24"/>
<rect x="98.00" y="272.70" width="20.00" height="183.30" fill="#a90d29"/>
<rect x="98.00" y="299.60" width="20.00" height="156.40" fill="#e7ad71"/>
<rect x="98.00" y="359.80" width="20.00" height="96.20" fill="#6a7891"/>
<rect x="98.00" y="367.60" width="20.00" height="88.40" fill="#522366"/>
<rect x="98.00" y="375.20" width="20.00" height="80.80" fill="#356a51"/>
<rect x="98.00" y="376.00" width="20.00" height="80.00" fill="#9d8b2d"/>
<rect x="98.00" y="379.90" width="20.00" height="76.10" fill="#4a4a3a"/>
<rect x="98.00" y="380.90" width="20.00" height="75.10" fill="#2a3f7a"/>
<rect x="98.00" y="440.60" width="20.00" height="15.40" fill="#cc0a7a"/>
<rect x="98.00" y="441.40" width="20.00" height="14.60" fill="#d9a3bd"/>
<rect x="98.00" y="442.30" width="20.00" height="13.70" fill="#b16f24"/>
<rect x="123.00" y="272.70" width="20.00" height="183.30" fill="#a90d29"/>
<rect x="123.00" y="304.30" width="20.00" height="151.70" fill="#e7ad71"/>
<rect x="123.00" y="364.60" width="20.00" height="91.40" fill="#6a7891"/>
<rect x="123.00" y="384.10" width="20.00" height="71.90" fill="#522366"/>
<rect x="123.00" y="392.40" width="20.00" height="63.60" fill="#356a51"/>
<rect x="123.00" y="394.60" width="20.00" height="61.40" fill="#9d8b2d"/>
<rect x="123.00" y="401.90" width="20.00" height="54.10" fill="#2a3f7a"/>
<rect x="123.00" y="428.00" width="20.00" height="28.00" fill="#69a9dd"/>
<rect x="123.00" y="434.50" width="20.00" height="21.50" fill="#b16f24"/>
<rect x="149.00" y="272.70" width="20.00" height="183.30" fill="#a90d29"/>
<rect x="149.00" y="283.50" width="20.00" height="172.50" fill="#e7ad71"/>
<rect x="149.00" y="338.60" width="20.00" height="117.40" fill="#6a7891"/>
<rect x="149.00" y="353.10" width="20.00" height="102.90" fill="#522366"/>
<rect x="149.00" y="360.20" width="20.00" height="95.80" fill="#356a51"/>
<rect x="149.00" y="370.10" width="20.00" height="85.90" fill="#9d8b2d"/>
<rect x="149.00" y="379.30" width="20.00" height="76.70" fill="#2a3f7a"/>
<rect x="149.00" y="428.00" width="20.00" height="28.00" fill="#cc0a7a"/>
<rect x="149.00" y="429.40" width="20.00" height="26.60" fill="#69a9dd"/>
<rect x="149.00" y="432.00" width="20.00" height="24.00" fill="#b16f24"/>
<rect x="218.00" y="272.70" width="20.00" height="183.30" fill="#a90d29"/>
<rect x="218.00" y="280.80" width="20.00" height="175.20" fill="#e7ad71"/>
<rect x="218.00" y="350.00" width="20.00" height="106.00" fill="#6a7891"/>
<rect x="218.00" y="355.80" width="20.00" height="100.20" fill="#522366"/>
<rect x="218.00" y="359.80" width="20.00" height="96.20" fill="#356a51"/>
<rect x="218.00" y="361.00" width="20.00" height="95.00" fill="#9d8b2d"/>
<rect x="218.00" y="365.00" width="20.00" height="91.00" fill="#2a3f7a"/>
<rect x="218.00" y="433.40" width="20.00" height="22.60" fill="#cc0a7a"/>
<rect x="218.00" y="434.60" width="20.00" height="21.40" fill="#b16f24"/>
<rect x="244.00" y="272.70" width="20.00" height="183.30" fill="#a90d29"/>
<rect x="244.00" y="283.90" width="20.00" height="172.10" fill="#e7ad71"/>
<rect x="244.00" y="415.20" width="20.00" height="40.80" fill="#6a7891"/>
<rect x="244.00" y="432.00" width="20.00" height="24.00" fill="#356a51"/>
<rect x="244.00" y="434.20" width="20.00" height="21.80" fill="#9d8b2d"/>
<rect x="244.00" y="438.50" width="20.00" height="17.50" fill="#2a3f7a"/>
<rect x="244.00" y="450.40" width="20.00" height="5.60" fill="#69a9dd"/>
<rect x="244.00" y="453.30" width="20.00" height="2.70" fill="#8aa6cf"/>
<rect x="269.00" y="272.70" width="20.00" height="183.30" fill="#a90d29"/>
<rect x="269.00" y="280.30" width="20.00" height="175.70" fill="#e7ad71"/>
<rect x="269.00" y="411.40" width="20.00" height="44.60" fill="#6a7891"/>
<rect x="269.00" y="430.20" width="20.00" height="25.80" fill="#5a5a40"/>
<rect x="269.00" y="431.20" width="20.00" height="24.80" fill="#9d8b2d"/>
<rect x="269.00" y="436.60" width="20.00" height="19.40" fill="#2a3f7a"/>
<rect x="269.00" y="448.00" width="20.00" height="8.00" fill="#69a9dd"/>
<rect x="295.00" y="272.70" width="20.00" height="183.30" fill="#a90d29"/>
<rect x="295.00" y="278.50" width="20.00" height="177.50" fill="#e7ad71"/>
<rect x="295.00" y="411.40" width="20.00" height="44.60" fill="#6a7891"/>
<rect x="295.00" y="427.30" width="20.00" height="28.70" fill="#356a51"/>
<rect x="295.00" y="428.80" width="20.00" height="27.20" fill="#9d8b2d"/>
<rect x="295.00" y="436.60" width="20.00" height="19.40" fill="#2a3f7a"/>
<rect x="295.00" y="450.00" width="20.00" height="6.00" fill="#69a9dd"/>
<line x1="66.8" y1="269.4" x2="66.8" y2="465.3" stroke="#000" stroke-width="1.3"/>
<line x1="63.3" y1="272.7" x2="66.8" y2="272.7" stroke="#000" stroke-width="1.1"/>
<text x="59.9" y="275.9" font-size="9.6" text-anchor="end" fill="#1a1a1a">1.00</text>
<line x1="63.3" y1="318.525" x2="66.8" y2="318.525" stroke="#000" stroke-width="1.1"/>
<text x="59.9" y="321.72499999999997" font-size="9.6" text-anchor="end" fill="#1a1a1a">0.75</text>
<line x1="63.3" y1="364.35" x2="66.8" y2="364.35" stroke="#000" stroke-width="1.1"/>
<text x="59.9" y="367.55" font-size="9.6" text-anchor="end" fill="#1a1a1a">0.50</text>
<line x1="63.3" y1="410.175" x2="66.8" y2="410.175" stroke="#000" stroke-width="1.1"/>
<text x="59.9" y="413.375" font-size="9.6" text-anchor="end" fill="#1a1a1a">0.25</text>
<line x1="63.3" y1="456.0" x2="66.8" y2="456.0" stroke="#000" stroke-width="1.1"/>
<text x="59.9" y="459.2" font-size="9.6" text-anchor="end" fill="#1a1a1a">0.00</text>
<line x1="66.2" y1="465.0" x2="177.0" y2="465.0" stroke="#000" stroke-width="1.3"/>
<line x1="82.0" y1="465.0" x2="82.0" y2="468.2" stroke="#000" stroke-width="1.1"/>
<line x1="108.0" y1="465.0" x2="108.0" y2="468.2" stroke="#000" stroke-width="1.1"/>
<line x1="133.0" y1="465.0" x2="133.0" y2="468.2" stroke="#000" stroke-width="1.1"/>
<line x1="159.0" y1="465.0" x2="159.0" y2="468.2" stroke="#000" stroke-width="1.1"/>
<line x1="212.4" y1="269.4" x2="212.4" y2="465.3" stroke="#000" stroke-width="1.3"/>
<line x1="208.9" y1="272.7" x2="212.4" y2="272.7" stroke="#000" stroke-width="1.1"/>
<text x="205.6" y="275.9" font-size="9.6" text-anchor="end" fill="#1a1a1a">1.00</text>
<line x1="208.9" y1="318.525" x2="212.4" y2="318.525" stroke="#000" stroke-width="1.1"/>
<text x="205.6" y="321.72499999999997" font-size="9.6" text-anchor="end" fill="#1a1a1a">0.75</text>
<line x1="208.9" y1="364.35" x2="212.4" y2="364.35" stroke="#000" stroke-width="1.1"/>
<text x="205.6" y="367.55" font-size="9.6" text-anchor="end" fill="#1a1a1a">0.50</text>
<line x1="208.9" y1="410.175" x2="212.4" y2="410.175" stroke="#000" stroke-width="1.1"/>
<text x="205.6" y="413.375" font-size="9.6" text-anchor="end" fill="#1a1a1a">0.25</text>
<line x1="208.9" y1="456.0" x2="212.4" y2="456.0" stroke="#000" stroke-width="1.1"/>
<text x="205.6" y="459.2" font-size="9.6" text-anchor="end" fill="#1a1a1a">0.00</text>
<line x1="211.8" y1="465.0" x2="322.5" y2="465.0" stroke="#000" stroke-width="1.3"/>
<line x1="228.0" y1="465.0" x2="228.0" y2="468.2" stroke="#000" stroke-width="1.1"/>
<line x1="254.0" y1="465.0" x2="254.0" y2="468.2" stroke="#000" stroke-width="1.1"/>
<line x1="279.0" y1="465.0" x2="279.0" y2="468.2" stroke="#000" stroke-width="1.1"/>
<line x1="305.0" y1="465.0" x2="305.0" y2="468.2" stroke="#000" stroke-width="1.1"/>
<text x="82.0" y="480.2" font-size="9.3" text-anchor="middle" fill="#111">0</text>
<text x="108.0" y="480.2" font-size="9.3" text-anchor="middle" fill="#111">7</text>
<text x="133.0" y="480.2" font-size="9.3" text-anchor="middle" fill="#111">14</text>
<text x="159.0" y="480.2" font-size="9.3" text-anchor="middle" fill="#111">21</text>
<text x="228.0" y="480.2" font-size="9.3" text-anchor="middle" fill="#111">0</text>
<text x="254.0" y="480.2" font-size="9.3" text-anchor="middle" fill="#111">7</text>
<text x="279.0" y="480.2" font-size="9.3" text-anchor="middle" fill="#111">14</text>
<text x="305.0" y="480.2" font-size="9.3" text-anchor="middle" fill="#111">21</text>
<text x="122.2" y="496.0" font-size="11.1" font-weight="bold" text-anchor="middle" fill="#000">Study day</text>
<text x="268.1" y="496.0" font-size="11.1" font-weight="bold" text-anchor="middle" fill="#000">Study day</text>
<text x="35.1" y="367.3" font-size="11.2" font-weight="bold" text-anchor="middle" fill="#000" transform="rotate(-90 35.1 367.3)">Proportion of 16S rDNA</text>
<text x="435.8" y="247.0" font-size="11.1" font-weight="bold" text-anchor="middle" fill="#000">Selected fecal taxa</text>
<text x="435.6" y="260.2" font-size="11.1" font-weight="bold" text-anchor="middle" fill="#000">Day 21</text>
<rect x="376.40" y="264.80" width="119.00" height="11.30" fill="#fff" stroke="#000" stroke-width="1.2"/>
<text x="435.9" y="272.65000000000003" font-size="6.1" text-anchor="middle" fill="#000" stroke="none">p<tspan fill="#b0b0b0">__</tspan>Firmicutes; g<tspan fill="#b0b0b0">__</tspan>Lactobacillus</text>
<line x1="376.4" y1="276.1" x2="376.4" y2="317.7" stroke="#000" stroke-width="1.2"/>
<line x1="372.79999999999995" y1="283.6" x2="376.4" y2="283.6" stroke="#000" stroke-width="1.1"/>
<text x="369.2" y="285.90000000000003" font-size="6.2" text-anchor="end" fill="#111" stroke="#111" stroke-width="0.22">0.4</text>
<line x1="372.79999999999995" y1="291.4" x2="376.4" y2="291.4" stroke="#000" stroke-width="1.1"/>
<text x="369.2" y="293.7" font-size="6.2" text-anchor="end" fill="#111" stroke="#111" stroke-width="0.22">0.3</text>
<line x1="372.79999999999995" y1="299.2" x2="376.4" y2="299.2" stroke="#000" stroke-width="1.1"/>
<text x="369.2" y="301.5" font-size="6.2" text-anchor="end" fill="#111" stroke="#111" stroke-width="0.22">0.2</text>
<line x1="372.79999999999995" y1="307.0" x2="376.4" y2="307.0" stroke="#000" stroke-width="1.1"/>
<text x="369.2" y="309.3" font-size="6.2" text-anchor="end" fill="#111" stroke="#111" stroke-width="0.22">0.1</text>
<line x1="372.79999999999995" y1="314.7" x2="376.4" y2="314.7" stroke="#000" stroke-width="1.1"/>
<text x="369.2" y="317.0" font-size="6.2" text-anchor="end" fill="#111" stroke="#111" stroke-width="0.22">0.0</text>
<line x1="399.2" y1="282.2" x2="399.2" y2="289.8" stroke="#000" stroke-width="1.25"/>
<line x1="399.2" y1="301.2" x2="399.2" y2="303.6" stroke="#000" stroke-width="1.25"/>
<rect x="384.80" y="289.80" width="28.80" height="11.40" fill="#fff" stroke="#000" stroke-width="1.15"/>
<line x1="384.8" y1="295.8" x2="413.59999999999997" y2="295.8" stroke="#000" stroke-width="1.3"/>
<line x1="437.6" y1="302.5" x2="437.6" y2="305.5" stroke="#000" stroke-width="1.25"/>
<rect x="423.20" y="305.50" width="28.80" height="9.20" fill="#fff" stroke="#000" stroke-width="1.15"/>
<line x1="423.20000000000005" y1="308.6" x2="452.0" y2="308.6" stroke="#000" stroke-width="1.3"/>
<circle cx="435.90000000000003" cy="297.3" r="1.15" fill="#111"/>
<circle cx="439.3" cy="297.3" r="1.15" fill="#111"/>
<rect x="376.40" y="322.10" width="119.00" height="11.00" fill="#fff" stroke="#000" stroke-width="1.2"/>
<text x="435.9" y="329.8" font-size="6.1" text-anchor="middle" fill="#000" stroke="none">p<tspan fill="#b0b0b0">__</tspan>Bacteroidetes; f<tspan fill="#b0b0b0">__</tspan>S24–7</text>
<line x1="376.4" y1="333.1" x2="376.4" y2="372.3" stroke="#000" stroke-width="1.2"/>
<line x1="372.79999999999995" y1="336.9" x2="376.4" y2="336.9" stroke="#000" stroke-width="1.1"/>
<text x="369.2" y="339.2" font-size="6.2" text-anchor="end" fill="#111" stroke="#111" stroke-width="0.22">0.8</text>
<line x1="372.79999999999995" y1="347.6" x2="376.4" y2="347.6" stroke="#000" stroke-width="1.1"/>
<text x="369.2" y="349.90000000000003" font-size="6.2" text-anchor="end" fill="#111" stroke="#111" stroke-width="0.22">0.6</text>
<line x1="372.79999999999995" y1="358.3" x2="376.4" y2="358.3" stroke="#000" stroke-width="1.1"/>
<text x="369.2" y="360.6" font-size="6.2" text-anchor="end" fill="#111" stroke="#111" stroke-width="0.22">0.4</text>
<line x1="372.79999999999995" y1="369.2" x2="376.4" y2="369.2" stroke="#000" stroke-width="1.1"/>
<text x="369.2" y="371.5" font-size="6.2" text-anchor="end" fill="#111" stroke="#111" stroke-width="0.22">0.2</text>
<line x1="399.2" y1="358.4" x2="399.2" y2="361.0" stroke="#000" stroke-width="1.25"/>
<line x1="399.2" y1="367.0" x2="399.2" y2="368.2" stroke="#000" stroke-width="1.25"/>
<rect x="384.80" y="361.00" width="28.80" height="6.00" fill="#fff" stroke="#000" stroke-width="1.15"/>
<line x1="384.8" y1="363.9" x2="413.59999999999997" y2="363.9" stroke="#000" stroke-width="1.3"/>
<line x1="437.6" y1="335.0" x2="437.6" y2="337.3" stroke="#000" stroke-width="1.25"/>
<line x1="437.6" y1="345.8" x2="437.6" y2="349.4" stroke="#000" stroke-width="1.25"/>
<rect x="423.20" y="337.30" width="28.80" height="8.50" fill="#fff" stroke="#000" stroke-width="1.15"/>
<line x1="423.20000000000005" y1="341.7" x2="452.0" y2="341.7" stroke="#000" stroke-width="1.3"/>
<circle cx="435.90000000000003" cy="353.5" r="1.15" fill="#111"/>
<circle cx="439.3" cy="353.5" r="1.15" fill="#111"/>
<rect x="376.40" y="376.20" width="119.00" height="10.80" fill="#fff" stroke="#000" stroke-width="1.2"/>
<text x="435.9" y="383.8" font-size="6.1" text-anchor="middle" fill="#000" stroke="none">p<tspan fill="#b0b0b0">__</tspan>Firmicutes; f<tspan fill="#b0b0b0">__</tspan>Clostridiaceae</text>
<line x1="376.4" y1="387.0" x2="376.4" y2="425.7" stroke="#000" stroke-width="1.2"/>
<line x1="372.79999999999995" y1="393.3" x2="376.4" y2="393.3" stroke="#000" stroke-width="1.1"/>
<text x="369.2" y="395.6" font-size="6.2" text-anchor="end" fill="#111" stroke="#111" stroke-width="0.22">0.06</text>
<line x1="372.79999999999995" y1="403.3" x2="376.4" y2="403.3" stroke="#000" stroke-width="1.1"/>
<text x="369.2" y="405.6" font-size="6.2" text-anchor="end" fill="#111" stroke="#111" stroke-width="0.22">0.04</text>
<line x1="372.79999999999995" y1="412.8" x2="376.4" y2="412.8" stroke="#000" stroke-width="1.1"/>
<text x="369.2" y="415.1" font-size="6.2" text-anchor="end" fill="#111" stroke="#111" stroke-width="0.22">0.02</text>
<line x1="372.79999999999995" y1="422.5" x2="376.4" y2="422.5" stroke="#000" stroke-width="1.1"/>
<text x="369.2" y="424.8" font-size="6.2" text-anchor="end" fill="#111" stroke="#111" stroke-width="0.22">0.00</text>
<line x1="399.2" y1="389.0" x2="399.2" y2="397.6" stroke="#000" stroke-width="1.25"/>
<line x1="399.2" y1="414.8" x2="399.2" y2="419.7" stroke="#000" stroke-width="1.25"/>
<rect x="384.80" y="397.60" width="28.80" height="17.20" fill="#fff" stroke="#000" stroke-width="1.15"/>
<line x1="384.8" y1="403.8" x2="413.59999999999997" y2="403.8" stroke="#000" stroke-width="1.3"/>
<line x1="423.20000000000005" y1="422.0" x2="452.0" y2="422.0" stroke="#000" stroke-width="1.3"/>
<circle cx="435.90000000000003" cy="413.4" r="1.15" fill="#111"/>
<circle cx="439.3" cy="413.4" r="1.15" fill="#111"/>
<rect x="376.40" y="429.60" width="119.00" height="10.90" fill="#fff" stroke="#000" stroke-width="1.2"/>
<text x="435.9" y="437.25" font-size="6.1" text-anchor="middle" fill="#000" stroke="none">p<tspan fill="#b0b0b0">__</tspan>Firmicutes; g<tspan fill="#b0b0b0">__</tspan>Turicibacter</text>
<line x1="376.4" y1="440.5" x2="376.4" y2="483.9" stroke="#000" stroke-width="1.2"/>
<line x1="372.79999999999995" y1="452.5" x2="376.4" y2="452.5" stroke="#000" stroke-width="1.1"/>
<text x="369.2" y="454.8" font-size="6.2" text-anchor="end" fill="#111" stroke="#111" stroke-width="0.22">0.20</text>
<line x1="372.79999999999995" y1="459.7" x2="376.4" y2="459.7" stroke="#000" stroke-width="1.1"/>
<text x="369.2" y="462.0" font-size="6.2" text-anchor="end" fill="#111" stroke="#111" stroke-width="0.22">0.15</text>
<line x1="372.79999999999995" y1="466.8" x2="376.4" y2="466.8" stroke="#000" stroke-width="1.1"/>
<text x="369.2" y="469.1" font-size="6.2" text-anchor="end" fill="#111" stroke="#111" stroke-width="0.22">0.10</text>
<line x1="372.79999999999995" y1="473.9" x2="376.4" y2="473.9" stroke="#000" stroke-width="1.1"/>
<text x="369.2" y="476.2" font-size="6.2" text-anchor="end" fill="#111" stroke="#111" stroke-width="0.22">0.05</text>
<line x1="372.79999999999995" y1="480.9" x2="376.4" y2="480.9" stroke="#000" stroke-width="1.1"/>
<text x="369.2" y="483.2" font-size="6.2" text-anchor="end" fill="#111" stroke="#111" stroke-width="0.22">0.00</text>
<line x1="399.2" y1="447.8" x2="399.2" y2="458.8" stroke="#000" stroke-width="1.25"/>
<line x1="399.2" y1="469.0" x2="399.2" y2="476.8" stroke="#000" stroke-width="1.25"/>
<rect x="384.80" y="458.80" width="28.80" height="10.20" fill="#fff" stroke="#000" stroke-width="1.15"/>
<line x1="384.8" y1="464.1" x2="413.59999999999997" y2="464.1" stroke="#000" stroke-width="1.3"/>
<line x1="423.20000000000005" y1="480.7" x2="452.0" y2="480.7" stroke="#000" stroke-width="1.3"/>
<circle cx="435.90000000000003" cy="475.9" r="1.15" fill="#111"/>
<circle cx="439.3" cy="475.9" r="1.15" fill="#111"/>
<text x="399.2" y="496.3" font-size="9.3" text-anchor="middle" fill="#111">CNV</text>
<text x="437.6" y="496.3" font-size="9.3" text-anchor="middle" fill="#111">NEO</text>
<text x="349.9" y="375.3" font-size="11.2" font-weight="bold" text-anchor="middle" fill="#000" transform="rotate(-90 349.9 375.3)">Proportion of 16S rDNA</text>
<text x="90.4" y="553.1" font-size="11.1" font-weight="bold" text-anchor="middle" fill="#000">Ileal contents</text>
<text x="90.0" y="566.4" font-size="11.1" font-weight="bold" text-anchor="middle" fill="#000">Day 21</text>
<rect x="68.00" y="575.50" width="20.00" height="183.60" fill="#a90d29"/>
<rect x="68.00" y="589.70" width="20.00" height="169.40" fill="#e7ad71"/>
<rect x="68.00" y="616.20" width="20.00" height="142.90" fill="#6a7891"/>
<rect x="68.00" y="619.30" width="20.00" height="139.80" fill="#522366"/>
<rect x="68.00" y="626.70" width="20.00" height="132.40" fill="#356a51"/>
<rect x="68.00" y="635.50" width="20.00" height="123.60" fill="#9d8b2d"/>
<rect x="68.00" y="638.60" width="20.00" height="120.50" fill="#2a3f7a"/>
<rect x="68.00" y="741.90" width="20.00" height="17.20" fill="#b16f24"/>
<rect x="94.00" y="575.50" width="20.00" height="183.60" fill="#a90d29"/>
<rect x="94.00" y="579.10" width="20.00" height="180.00" fill="#e7ad71"/>
<rect x="94.00" y="684.20" width="20.00" height="74.90" fill="#6a7891"/>
<rect x="94.00" y="722.40" width="20.00" height="36.70" fill="#9d8b2d"/>
<rect x="94.00" y="734.70" width="20.00" height="24.40" fill="#2a3f7a"/>
<rect x="94.00" y="748.20" width="20.00" height="10.90" fill="#69a9dd"/>
<line x1="63.0" y1="572.0" x2="63.0" y2="768.7" stroke="#000" stroke-width="1.3"/>
<line x1="59.4" y1="575.5" x2="63.0" y2="575.5" stroke="#000" stroke-width="1.1"/>
<text x="56.0" y="578.5" font-size="9.6" text-anchor="end" fill="#1a1a1a">1.00</text>
<line x1="59.4" y1="621.4" x2="63.0" y2="621.4" stroke="#000" stroke-width="1.1"/>
<text x="56.0" y="624.4" font-size="9.6" text-anchor="end" fill="#1a1a1a">0.75</text>
<line x1="59.4" y1="667.3" x2="63.0" y2="667.3" stroke="#000" stroke-width="1.1"/>
<text x="56.0" y="670.3" font-size="9.6" text-anchor="end" fill="#1a1a1a">0.50</text>
<line x1="59.4" y1="713.2" x2="63.0" y2="713.2" stroke="#000" stroke-width="1.1"/>
<text x="56.0" y="716.2" font-size="9.6" text-anchor="end" fill="#1a1a1a">0.25</text>
<line x1="59.4" y1="759.1" x2="63.0" y2="759.1" stroke="#000" stroke-width="1.1"/>
<text x="56.0" y="762.1" font-size="9.6" text-anchor="end" fill="#1a1a1a">0.00</text>
<line x1="62.4" y1="768.0" x2="123.4" y2="768.0" stroke="#000" stroke-width="1.3"/>
<line x1="78.0" y1="768.2" x2="78.0" y2="771.4" stroke="#000" stroke-width="1.1"/>
<text x="78.0" y="783.8" font-size="9.3" text-anchor="middle" fill="#111">CNV</text>
<line x1="104.0" y1="768.2" x2="104.0" y2="771.4" stroke="#000" stroke-width="1.1"/>
<text x="104.0" y="783.8" font-size="9.3" text-anchor="middle" fill="#111">NEO</text>
<text x="31.2" y="670.9" font-size="11.2" font-weight="bold" text-anchor="middle" fill="#000" transform="rotate(-90 31.2 670.9)">Proportion of 16S rDNA</text>
<text x="239.6" y="553.6" font-size="11.1" font-weight="bold" text-anchor="middle" fill="#000">Selected ileal taxa</text>
<text x="239.4" y="566.9" font-size="11.1" font-weight="bold" text-anchor="middle" fill="#000">Day 21</text>
<rect x="179.90" y="571.50" width="119.40" height="11.10" fill="#fff" stroke="#000" stroke-width="1.2"/>
<text x="239.60000000000002" y="579.25" font-size="5.9" text-anchor="middle" fill="#000" stroke="none">p<tspan fill="#b0b0b0">__</tspan>Firmicutes; g<tspan fill="#b0b0b0">__</tspan>Lactobacillus</text>
<line x1="179.9" y1="582.6" x2="179.9" y2="625.9" stroke="#000" stroke-width="1.2"/>
<line x1="176.3" y1="590.3" x2="179.9" y2="590.3" stroke="#000" stroke-width="1.1"/>
<text x="172.7" y="592.5999999999999" font-size="5.95" text-anchor="end" fill="#111" stroke="#111" stroke-width="0.22">0.75</text>
<line x1="176.3" y1="601.0" x2="179.9" y2="601.0" stroke="#000" stroke-width="1.1"/>
<text x="172.7" y="603.3" font-size="5.95" text-anchor="end" fill="#111" stroke="#111" stroke-width="0.22">0.50</text>
<line x1="176.3" y1="611.6" x2="179.9" y2="611.6" stroke="#000" stroke-width="1.1"/>
<text x="172.7" y="613.9" font-size="5.95" text-anchor="end" fill="#111" stroke="#111" stroke-width="0.22">0.25</text>
<line x1="176.3" y1="622.4" x2="179.9" y2="622.4" stroke="#000" stroke-width="1.1"/>
<text x="172.7" y="624.6999999999999" font-size="5.95" text-anchor="end" fill="#111" stroke="#111" stroke-width="0.22">0.00</text>
<line x1="203.0" y1="582.6" x2="203.0" y2="591.5" stroke="#000" stroke-width="1.25"/>
<line x1="203.0" y1="604.1" x2="203.0" y2="611.4" stroke="#000" stroke-width="1.25"/>
<rect x="188.40" y="591.50" width="29.20" height="12.60" fill="#fff" stroke="#000" stroke-width="1.15"/>
<line x1="188.4" y1="596.1" x2="217.6" y2="596.1" stroke="#000" stroke-width="1.3"/>
<line x1="241.6" y1="621.3" x2="241.6" y2="622.6" stroke="#000" stroke-width="1.25"/>
<rect x="227.00" y="618.10" width="29.20" height="3.20" fill="#fff" stroke="#000" stroke-width="1.15"/>
<line x1="227.0" y1="618.1" x2="256.2" y2="618.1" stroke="#000" stroke-width="1.3"/>
<circle cx="241.6" cy="604.0" r="1.0" fill="#222"/>
<rect x="179.90" y="629.70" width="119.40" height="10.60" fill="#fff" stroke="#000" stroke-width="1.2"/>
<text x="239.60000000000002" y="637.2" font-size="5.9" text-anchor="middle" fill="#000" stroke="none">p<tspan fill="#b0b0b0">__</tspan>Bacteroidetes; f<tspan fill="#b0b0b0">__</tspan>S24–7</text>
<line x1="179.9" y1="640.3" x2="179.9" y2="685.3" stroke="#000" stroke-width="1.2"/>
<line x1="176.3" y1="642.0" x2="179.9" y2="642.0" stroke="#000" stroke-width="1.1"/>
<text x="172.7" y="644.3" font-size="5.95" text-anchor="end" fill="#111" stroke="#111" stroke-width="0.22">0.8</text>
<line x1="176.3" y1="651.9" x2="179.9" y2="651.9" stroke="#000" stroke-width="1.1"/>
<text x="172.7" y="654.1999999999999" font-size="5.95" text-anchor="end" fill="#111" stroke="#111" stroke-width="0.22">0.6</text>
<line x1="176.3" y1="662.0" x2="179.9" y2="662.0" stroke="#000" stroke-width="1.1"/>
<text x="172.7" y="664.3" font-size="5.95" text-anchor="end" fill="#111" stroke="#111" stroke-width="0.22">0.4</text>
<line x1="176.3" y1="672.1" x2="179.9" y2="672.1" stroke="#000" stroke-width="1.1"/>
<text x="172.7" y="674.4" font-size="5.95" text-anchor="end" fill="#111" stroke="#111" stroke-width="0.22">0.2</text>
<line x1="176.3" y1="681.6" x2="179.9" y2="681.6" stroke="#000" stroke-width="1.1"/>
<text x="172.7" y="683.9" font-size="5.95" text-anchor="end" fill="#111" stroke="#111" stroke-width="0.22">0.0</text>
<line x1="203.0" y1="664.8" x2="203.0" y2="669.4" stroke="#000" stroke-width="1.25"/>
<line x1="203.0" y1="678.3" x2="203.0" y2="681.0" stroke="#000" stroke-width="1.25"/>
<rect x="188.40" y="669.40" width="29.20" height="8.90" fill="#fff" stroke="#000" stroke-width="1.15"/>
<line x1="188.4" y1="673.7" x2="217.6" y2="673.7" stroke="#000" stroke-width="1.3"/>
<line x1="241.6" y1="652.0" x2="241.6" y2="652.5" stroke="#000" stroke-width="1.25"/>
<line x1="241.6" y1="658.2" x2="241.6" y2="662.0" stroke="#000" stroke-width="1.25"/>
<rect x="227.00" y="652.50" width="29.20" height="5.70" fill="#fff" stroke="#000" stroke-width="1.15"/>
<line x1="227.0" y1="654.6" x2="256.2" y2="654.6" stroke="#000" stroke-width="1.3"/>
<rect x="179.90" y="689.10" width="119.40" height="11.10" fill="#fff" stroke="#000" stroke-width="1.2"/>
<text x="239.60000000000002" y="696.8500000000001" font-size="5.9" text-anchor="middle" fill="#000" stroke="none">p<tspan fill="#b0b0b0">__</tspan>Firmicutes; f<tspan fill="#b0b0b0">__</tspan>Clostridiaceae</text>
<line x1="179.9" y1="700.2" x2="179.9" y2="744.5" stroke="#000" stroke-width="1.2"/>
<line x1="176.3" y1="708.6" x2="179.9" y2="708.6" stroke="#000" stroke-width="1.1"/>
<text x="172.7" y="710.9" font-size="5.95" text-anchor="end" fill="#111" stroke="#111" stroke-width="0.22">0.09</text>
<line x1="176.3" y1="719.6" x2="179.9" y2="719.6" stroke="#000" stroke-width="1.1"/>
<text x="172.7" y="721.9" font-size="5.95" text-anchor="end" fill="#111" stroke="#111" stroke-width="0.22">0.06</text>
<line x1="176.3" y1="730.5" x2="179.9" y2="730.5" stroke="#000" stroke-width="1.1"/>
<text x="172.7" y="732.8" font-size="5.95" text-anchor="end" fill="#111" stroke="#111" stroke-width="0.22">0.03</text>
<line x1="176.3" y1="741.3" x2="179.9" y2="741.3" stroke="#000" stroke-width="1.1"/>
<text x="172.7" y="743.5999999999999" font-size="5.95" text-anchor="end" fill="#111" stroke="#111" stroke-width="0.22">0.00</text>
<line x1="203.0" y1="702.2" x2="203.0" y2="718.5" stroke="#000" stroke-width="1.25"/>
<line x1="203.0" y1="739.3" x2="203.0" y2="741.0" stroke="#000" stroke-width="1.25"/>
<rect x="188.40" y="718.50" width="29.20" height="20.80" fill="#fff" stroke="#000" stroke-width="1.15"/>
<line x1="188.4" y1="736.7" x2="217.6" y2="736.7" stroke="#000" stroke-width="1.3"/>
<line x1="227.0" y1="741.3" x2="256.2" y2="741.3" stroke="#000" stroke-width="1.3"/>
<circle cx="241.6" cy="726.2" r="1.0" fill="#222"/>
<line x1="241.6" y1="738.8" x2="241.6" y2="741.3" stroke="#000" stroke-width="1.0"/>
<rect x="179.90" y="748.10" width="119.40" height="11.40" fill="#fff" stroke="#000" stroke-width="1.2"/>
<text x="239.60000000000002" y="756.0" font-size="5.9" text-anchor="middle" fill="#000" stroke="none">p<tspan fill="#b0b0b0">__</tspan>Firmicutes; g<tspan fill="#b0b0b0">__</tspan>Turicibacter</text>
<line x1="179.9" y1="759.5" x2="179.9" y2="804.4" stroke="#000" stroke-width="1.2"/>
<line x1="176.3" y1="771.5" x2="179.9" y2="771.5" stroke="#000" stroke-width="1.1"/>
<text x="172.7" y="773.8" font-size="5.95" text-anchor="end" fill="#111" stroke="#111" stroke-width="0.22">0.10</text>
<line x1="176.3" y1="786.3" x2="179.9" y2="786.3" stroke="#000" stroke-width="1.1"/>
<text x="172.7" y="788.5999999999999" font-size="5.95" text-anchor="end" fill="#111" stroke="#111" stroke-width="0.22">0.05</text>
<line x1="176.3" y1="800.8" x2="179.9" y2="800.8" stroke="#000" stroke-width="1.1"/>
<text x="172.7" y="803.0999999999999" font-size="5.95" text-anchor="end" fill="#111" stroke="#111" stroke-width="0.22">0.00</text>
<line x1="203.0" y1="762.2" x2="203.0" y2="767.5" stroke="#000" stroke-width="1.25"/>
<line x1="203.0" y1="784.0" x2="203.0" y2="797.8" stroke="#000" stroke-width="1.25"/>
<rect x="188.40" y="767.50" width="29.20" height="16.50" fill="#fff" stroke="#000" stroke-width="1.15"/>
<line x1="188.4" y1="774.9" x2="217.6" y2="774.9" stroke="#000" stroke-width="1.3"/>
<line x1="227.0" y1="800.9" x2="256.2" y2="800.9" stroke="#000" stroke-width="1.3"/>
<circle cx="241.6" cy="785.5" r="1.0" fill="#222"/>
<line x1="241.6" y1="798.8" x2="241.6" y2="800.9" stroke="#000" stroke-width="1.0"/>
<text x="203.0" y="816.2" font-size="9.3" text-anchor="middle" fill="#111">CNV</text>
<text x="241.6" y="816.2" font-size="9.3" text-anchor="middle" fill="#111">NEO</text>
<text x="154.4" y="689.0" font-size="11.2" font-weight="bold" text-anchor="middle" fill="#000" transform="rotate(-90 154.4 689.0)">Proportion of 16S rDNA</text>
<rect x="316.80" y="543.70" width="16.00" height="16.43" fill="#a90d29"/>
<text x="336.9" y="554.3900000000001" font-size="8.73" text-anchor="start" fill="#2e2e2e">NA; NA</text>
<rect x="316.80" y="560.08" width="16.00" height="16.43" fill="#6a7891"/>
<text x="336.9" y="570.7700000000001" font-size="8.73" text-anchor="start" fill="#2e2e2e">p__Actinobacteria; f__Coriobacteriaceae</text>
<rect x="316.80" y="576.46" width="16.00" height="16.43" fill="#e7ad71"/>
<text x="336.9" y="587.1500000000001" font-size="8.73" text-anchor="start" fill="#2e2e2e">p__Bacteroidetes; f__S24–7</text>
<rect x="316.80" y="592.84" width="16.00" height="16.43" fill="#b3c18a"/>
<text x="336.9" y="603.5300000000001" font-size="8.73" text-anchor="start" fill="#2e2e2e">p__Firmicutes; f__Christensenellaceae</text>
<rect x="316.80" y="609.22" width="16.00" height="16.43" fill="#522366"/>
<text x="336.9" y="619.9100000000001" font-size="8.73" text-anchor="start" fill="#2e2e2e">p__Firmicutes; f__Clostridiaceae</text>
<rect x="316.80" y="625.60" width="16.00" height="16.43" fill="#356a51"/>
<text x="336.9" y="636.2900000000001" font-size="8.73" text-anchor="start" fill="#2e2e2e">p__Firmicutes; f__Erysipelotrichaceae</text>
<rect x="316.80" y="641.98" width="16.00" height="16.43" fill="#9d8b2d"/>
<text x="336.9" y="652.6700000000001" font-size="8.73" text-anchor="start" fill="#2e2e2e">p__Firmicutes; f__Lachnospiraceae</text>
<rect x="316.80" y="658.36" width="16.00" height="16.43" fill="#2a3f7a"/>
<text x="336.9" y="669.0500000000001" font-size="8.73" text-anchor="start" fill="#2e2e2e">p__Firmicutes; f__Lactobacillaceae</text>
<rect x="316.80" y="674.74" width="16.00" height="16.43" fill="#958cc2"/>
<text x="336.9" y="685.4300000000001" font-size="8.73" text-anchor="start" fill="#2e2e2e">p__Firmicutes; f__[Mogibacteriaceae]</text>
<rect x="316.80" y="691.12" width="16.00" height="16.43" fill="#cc0a7a"/>
<text x="336.9" y="701.8100000000001" font-size="8.73" text-anchor="start" fill="#2e2e2e">p__Firmicutes; f__Peptococcaceae</text>
<rect x="316.80" y="707.50" width="16.00" height="16.43" fill="#69a9dd"/>
<text x="336.9" y="718.19" font-size="8.73" text-anchor="start" fill="#2e2e2e">p__Firmicutes; f__Ruminococcaceae</text>
<rect x="316.80" y="723.88" width="16.00" height="16.43" fill="#b16f24"/>
<text x="336.9" y="734.57" font-size="8.73" text-anchor="start" fill="#2e2e2e">p__Firmicutes; f__Streptococcaceae</text>
<rect x="316.80" y="740.26" width="16.00" height="16.43" fill="#5cad42"/>
<text x="336.9" y="750.95" font-size="8.73" text-anchor="start" fill="#2e2e2e">p__Firmicutes; f__Turicibacteraceae</text>
<rect x="316.80" y="756.64" width="16.00" height="16.43" fill="#6b3d1d"/>
<text x="336.9" y="767.3300000000002" font-size="8.73" text-anchor="start" fill="#2e2e2e">p__Firmicutes; NA</text>
<rect x="316.80" y="773.02" width="16.00" height="16.43" fill="#c9ccd3"/>
<text x="336.9" y="783.71" font-size="8.73" text-anchor="start" fill="#2e2e2e">p__Tenericutes; f__Anaeroplasmataceae</text>
<rect x="316.80" y="789.40" width="16.00" height="16.43" fill="#d98b7c"/>
<text x="336.9" y="800.0900000000001" font-size="8.73" text-anchor="start" fill="#2e2e2e">p__Tenericutes; NA</text>
<rect x="316.80" y="805.78" width="16.00" height="16.43" fill="#b6bece"/>
<text x="336.9" y="816.47" font-size="8.73" text-anchor="start" fill="#2e2e2e">p__Verrucomicrobia; f__Verrucomicrobiaceae</text>
</svg>
</body></html>
